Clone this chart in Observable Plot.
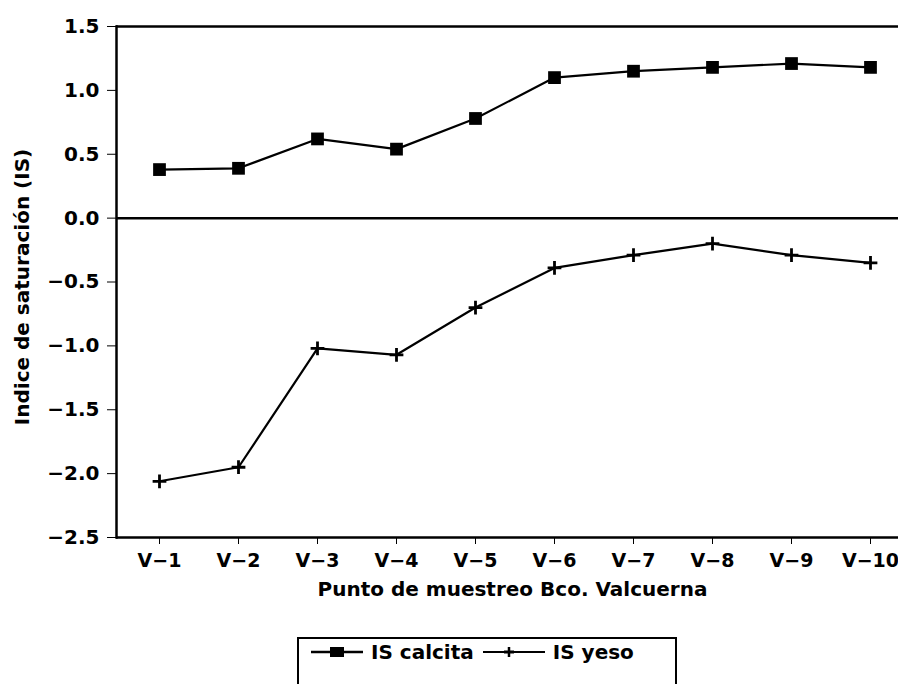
<!DOCTYPE html>
<html>
<head>
<meta charset="utf-8">
<script src="https://cdn.jsdelivr.net/npm/d3@7"></script>
<script src="https://cdn.jsdelivr.net/npm/@observablehq/plot@0.6"></script>
<style>
  body { margin: 0; background: #fff; font-family: "DejaVu Sans", sans-serif; }
  #chart svg { display: block; }
  #legend {
    margin-left: 297px; margin-top: 17px; width: 380px; height: 60px;
    border: 2px solid #000; border-bottom: none; box-sizing: border-box;
    display: flex; align-items: flex-start; padding-top: 1px;
    font-family: "DejaVu Sans", sans-serif; font-weight: bold; font-size: 20px;
  }
  #legend .item { display: flex; align-items: center; }
  #legend svg { display: block; }
</style>
</head>
<body>
<div id="chart"></div>
<div id="legend"></div>
<script>
const points = ["V-1","V-2","V-3","V-4","V-5","V-6","V-7","V-8","V-9","V-10"];
const pointLabels = ["V−1","V−2","V−3","V−4","V−5","V−6","V−7","V−8","V−9","V−10"];
const isCalcita = [0.38, 0.39, 0.62, 0.54, 0.78, 1.10, 1.15, 1.18, 1.21, 1.18];
const isYeso = [-2.06, -1.95, -1.02, -1.07, -0.70, -0.39, -0.29, -0.20, -0.29, -0.35];
const yTicks = [1.5, 1.0, 0.5, 0.0, -0.5, -1.0, -1.5, -2.0, -2.5];
const seriesNames = ["IS calcita", "IS yeso"];
const xTitle = "Punto de muestreo Bco. Valcuerna";
const yTitle = "Indice de saturación (IS)";

const calcita = points.map((p, i) => ({p, v: isCalcita[i]}));
const yeso = points.map((p, i) => ({p, v: isYeso[i]}));
const labelOf = new Map(points.map((p, i) => [p, pointLabels[i]]));

const font = {fontFamily: "DejaVu Sans", fontWeight: "bold"};

const chart = Plot.plot({
  width: 898,
  height: 620,
  marginLeft: 116,
  marginRight: 0,
  marginTop: 26,
  marginBottom: 83,
  insetLeft: 41,
  insetRight: 27,
  style: {background: "#fff", color: "#000", fontFamily: "DejaVu Sans"},
  x: {type: "point", domain: points, padding: 0},
  y: {domain: [-2.5, 1.5]},
  marks: [
    Plot.frame({anchor: "left", stroke: "#000", strokeWidth: 2.5}),
    Plot.ruleY([1.5, 0, -2.5], {stroke: "#000", strokeWidth: 2.5}),
    Plot.axisY({ticks: yTicks, tickFormat: d3.format(".1f"), tickSize: 9, tickPadding: 8,
      tickStrokeWidth: 2, fontSize: 20, label: null, ...font}),
    Plot.axisX({tickFormat: d => labelOf.get(d), tickSize: 7, tickPadding: 9,
      fontSize: 19, label: null, ...font}),
    Plot.text([xTitle], {frameAnchor: "bottom", dx: 5, dy: 58, fontSize: 20, fontFamily: "DejaVu Sans", fontWeight: 600}),
    Plot.text([yTitle], {frameAnchor: "left", textAnchor: "middle", rotate: -90, dx: -94, dy: 5, fontSize: 20, fontFamily: "DejaVu Sans", fontWeight: 600}),
    Plot.line(calcita, {x: "p", y: "v", stroke: "#000", strokeWidth: 2.2}),
    Plot.dot(calcita, {x: "p", y: "v", symbol: "square", r: 7.2, fill: "#000", stroke: "none"}),
    Plot.line(yeso, {x: "p", y: "v", stroke: "#000", strokeWidth: 2.2}),
    Plot.dot(yeso, {x: "p", y: "v", symbol: "plus", r: 4.5, stroke: "#000", strokeWidth: 2.8})
  ]
});
document.getElementById("chart").appendChild(chart);

// Legend
const legend = document.getElementById("legend");
const sym = [
  `<svg width="56" height="20"><line x1="2" y1="10" x2="54" y2="10" stroke="#000" stroke-width="2.5"/><rect x="21" y="5" width="14" height="10" fill="#000"/></svg>`,
  `<svg width="66" height="20"><line x1="2" y1="10" x2="64" y2="10" stroke="#000" stroke-width="2"/><line x1="28" y1="5" x2="28" y2="15" stroke="#000" stroke-width="2.5"/><line x1="23" y1="10" x2="33" y2="10" stroke="#000" stroke-width="3"/></svg>`
];
seriesNames.forEach((name, i) => {
  const it = document.createElement("div");
  it.className = "item";
  it.style.marginLeft = i === 0 ? "10px" : "7px";
  it.innerHTML = sym[i] + `<span style="margin-left:6px">${name}</span>`;
  legend.appendChild(it);
});
</script>
</body>
</html>
